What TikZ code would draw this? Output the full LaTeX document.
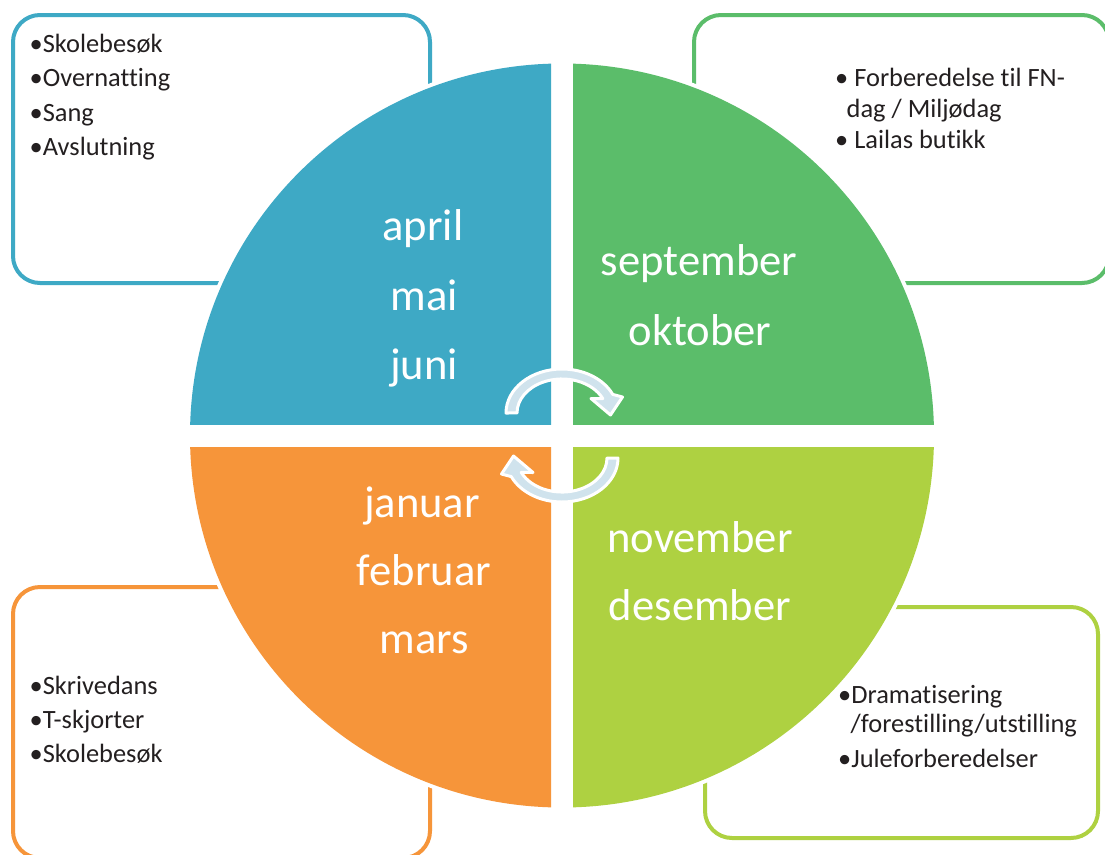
\documentclass[tikz,border=0pt]{standalone}
\usepackage{fontspec}
\setmainfont{Carlito}[Ligatures={NoCommon,NoContextual}]
\definecolor{blueQ}{HTML}{3EA9C5}
\definecolor{greenQ}{HTML}{5BBD6A}
\definecolor{orangeQ}{HTML}{F6953A}
\definecolor{limeQ}{HTML}{AED141}
\definecolor{arrowfill}{HTML}{D0E3ED}
\definecolor{textdark}{HTML}{231F20}
\tikzset{
  infobox/.style={line width=4pt, rounded corners=27pt},
  itemtext/.style={font=\fontsize{26.4}{30}\selectfont, text=textdark, inner sep=0pt, anchor=base west},
  monthtext/.style={font=\fontsize{44.6}{50}\selectfont, text=white, inner sep=0pt, anchor=base},
  cyclearrow/.style={fill=arrowfill, draw=white, line width=3pt, line join=round}
}
\begin{document}
\begin{tikzpicture}[x=1pt,y=-1pt]
\useasboundingbox (0,0) rectangle (1105,854);
\clip (0,0) rectangle (1105,854);
\fill[white] (0,0) rectangle (1105,854);
% boxes
\draw[infobox, draw=blueQ]   (13,15) rectangle (430,283);
\draw[infobox, draw=greenQ]  (694,15) rectangle (1109,283);
\draw[infobox, draw=orangeQ] (13,587) rectangle (430,858);
\draw[infobox, draw=limeQ]   (705,607) rectangle (1098,838);
% circle
\coordinate (C) at (562,435.5);
\fill[white] (C) circle[radius=376pt];
\begin{scope}
  \clip (150,20) rectangle (551,424);
  \fill[blueQ] (C) circle[radius=372pt];
\end{scope}
\begin{scope}
  \clip (573,20) rectangle (980,424);
  \fill[greenQ] (C) circle[radius=372pt];
\end{scope}
\begin{scope}
  \clip (150,447) rectangle (551,850);
  \fill[orangeQ] (C) circle[radius=372pt];
\end{scope}
\begin{scope}
  \clip (573,447) rectangle (980,850);
  \fill[limeQ] (C) circle[radius=372pt];
\end{scope}
% cycle arrows
\path[cyclearrow] (506,413) arc[start angle=180, end angle=25, x radius=56pt, y radius=44pt]
  -- (622.5,397) -- (610.5,415) -- (591,398.5) -- (602.8,398.6)
  arc[start angle=25, end angle=180, x radius=45pt, y radius=34pt] -- cycle;
\begin{scope}[rotate around={180:(C)}]
\path[cyclearrow] (506,413) arc[start angle=180, end angle=25, x radius=56pt, y radius=44pt]
  -- (622.5,397) -- (610.5,415) -- (591,398.5) -- (602.8,398.6)
  arc[start angle=25, end angle=180, x radius=45pt, y radius=34pt] -- cycle;
\end{scope}
% month labels
\node[monthtext] (apr) at (423,240) {april};
\node[monthtext] (mai) at (424,310) {mai};
\node[monthtext] (jun) at (424,379) {juni};
\node[monthtext] (sep) at (699,275) {september};
\node[monthtext] (okt) at (700,345) {oktober};
\node[monthtext] (jan) at (422,517) {januar};
\node[monthtext] (feb) at (424,585) {februar};
\node[monthtext] (mar) at (424,653) {mars};
\node[monthtext] (nov) at (700,552) {november};
\node[monthtext] (des) at (700,620) {desember};
% box texts
\node[itemtext] (b1) at (29.5,52)  {•Skolebesøk};
\node[itemtext] (b2) at (29.5,86)  {•Overnatting};
\node[itemtext] (b3) at (29.5,121) {•Sang};
\node[itemtext] (b4) at (29.5,155) {•Avslutning};
\node[itemtext] (g1) at (835,86)   {• Forberedelse til FN-};
\node[itemtext] (g2) at (846.5,117) {dag / Miljødag};
\node[itemtext] (g3) at (835,148)  {• Lailas butikk};
\node[itemtext] (l1) at (838,703)  {•Dramatisering};
\node[itemtext] (l2) at (850.5,732) {/forestilling/utstilling};
\node[itemtext] (l3) at (838,767)  {•Juleforberedelser};
\node[itemtext] (o1) at (29.5,694) {•Skrivedans};
\node[itemtext] (o2) at (29.5,728) {•T-skjorter};
\node[itemtext] (o3) at (29.5,762) {•Skolebesøk};
\end{tikzpicture}
\end{document}
